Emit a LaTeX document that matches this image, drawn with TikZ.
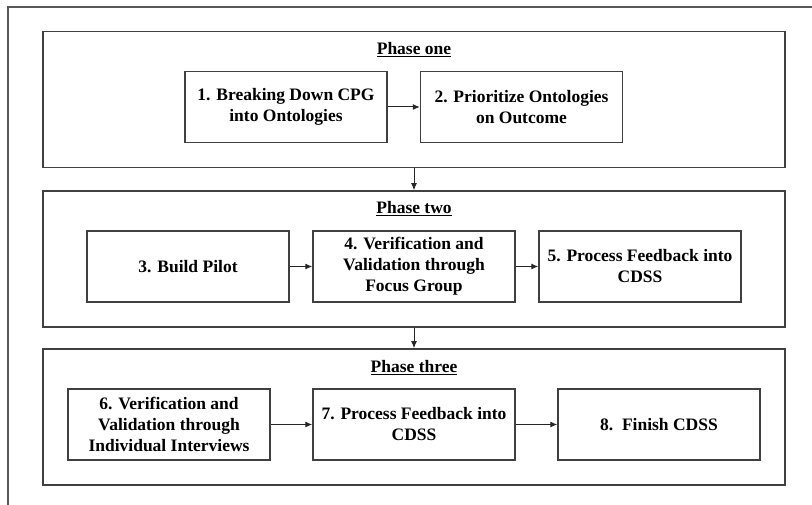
\documentclass[tikz,border=0pt]{standalone}
\usepackage{fontspec}
\setmainfont{Liberation Serif}
\usepackage{tikz}
\usetikzlibrary{shapes.geometric, arrows.meta}
\usetikzlibrary{calc}
\newcommand{\stagefont}{\fontsize{17.5}{21}\selectfont\bfseries}
\tikzstyle{frame} = [draw = black!65, line width=1.5pt]
\tikzstyle{phase} = [rectangle, minimum width = 742pt, minimum height=136pt, draw = black!75, line width=1.6pt]
\tikzstyle{stage} = [rectangle, minimum width = 202pt, minimum height=71pt, inner sep=2pt, text centered, align=center, draw = black!75, line width=1.5pt, font=\stagefont]
\tikzstyle{title} = [font=\stagefont]
\tikzstyle{arrow} = [-{Latex[length=7pt,width=6pt]}, line width=1pt, draw = black!85]

\begin{document}
\begin{tikzpicture}[x=1pt, y=-1pt, node distance=226pt]
\useasboundingbox (0,0) rectangle (812,505);
%outer frame
\draw [frame] (812,7) -- (8,7) -- (8,505);

%phases
\node (p1) [phase] at (414,99.5) {};
\node (p2) [phase] at (414,259) {};
\node (p3) [phase] at (414,417) {};
\node (t1) [title] at (414,49.5) {\underline{Phase one}};
\node (t2) [title] at (414,208.5) {\underline{Phase two}};
\node (t3) [title] at (414,367.5) {\underline{Phase three}};

%steps
\node (s1) [stage] at (286,107) {1. Breaking Down CPG\\into Ontologies};
\node (s2) [stage, right of=s1, xshift=9.5pt] {2. Prioritize Ontologies\\on Outcome};
\node (s3) [stage] at (188,266.5) {3. Build Pilot};
\node (s4) [stage, right of=s3] {4. Verification and\\Validation through\\Focus Group};
\node (s5) [stage, right of=s4] {5. Process Feedback into\\CDSS};
\node (s6) [stage] at (169,424.5) {6. Verification and\\Validation through\\Individual Interviews};
\node (s7) [stage, right of=s6, xshift=19pt] {7. Process Feedback into\\CDSS};
\node (s8) [stage, right of=s7, xshift=19pt] {8.~~Finish CDSS};

%connectors
\draw [arrow](s1) -- (s2);
\draw [arrow](p1) -- (p2);
\draw [arrow](s3) -- (s4);
\draw [arrow](s4) -- (s5);
\draw [arrow](p2) -- (p3);
\draw [arrow](s6) -- (s7);
\draw [arrow](s7) -- (s8);
\end{tikzpicture}
\end{document}
